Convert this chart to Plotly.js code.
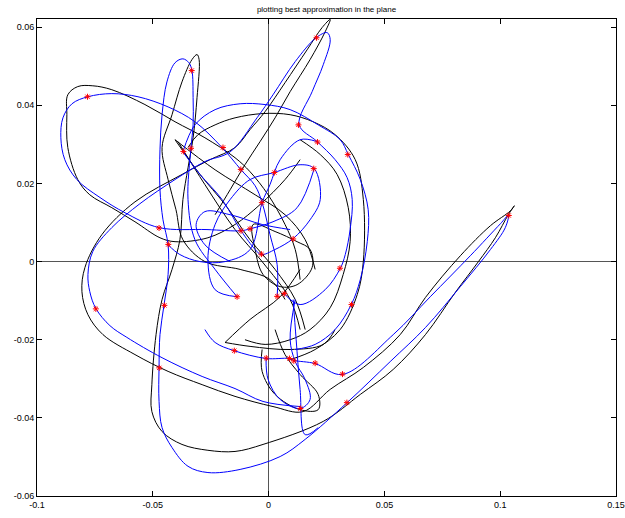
<!DOCTYPE html>
<html><head><meta charset="utf-8">
<script src="https://cdn.plot.ly/plotly-3.0.1.min.js"></script>
<style>html,body{margin:0;padding:0;background:#fff}#chart{width:625px;height:518px}</style>
</head><body><div id="chart"></div>
<script>
// Sample points (red asterisks)
const ptX = [0.0207,-0.0332,-0.0782,0.0129,0.0211,0.0342,0.0195,0.0025,-0.0120,-0.0197,-0.0335,-0.0368,-0.0029,-0.0473,-0.0433,-0.0119,-0.0080,0.0106,-0.0031,0.0308,-0.0136,0.0037,0.0068,0.0358,-0.0148,-0.0010,0.0090,0.0109,0.0201,0.0319,0.0137,0.0338,-0.0746,-0.0450,0.1037,-0.0472];
const ptY = [0.0573,0.0489,0.0422,0.0350,0.0306,0.0274,0.0238,0.0228,0.0236,0.0292,0.0290,0.0282,0.0151,0.0086,0.0044,0.0079,0.0084,0.0058,0.0019,-0.0017,-0.0090,-0.0089,-0.0082,-0.0110,-0.0228,-0.0247,-0.0248,-0.0254,-0.0260,-0.0288,-0.0376,-0.0361,-0.0121,-0.0112,0.0118,-0.0272];

// Blue curve pieces (interpolating curve)
const blueX1 = [0.0197,0.0123,0.0019,-0.0080,-0.0119,-0.0266,-0.0473,-0.0620,-0.0728,-0.0828,-0.0880,-0.0897,-0.0888,-0.0849,-0.0780,-0.0677,-0.0564,-0.0434,-0.0318,-0.0201,-0.0119,-0.0058,-0.0028,0.0006,0.0037,0.0037];
const blueY1 = [0.0238,0.0138,0.0102,0.0084,0.0079,0.0082,0.0087,0.0125,0.0164,0.0210,0.0261,0.0317,0.0368,0.0404,0.0422,0.0430,0.0422,0.0396,0.0358,0.0292,0.0235,0.0194,0.0151,0.0069,-0.0008,-0.0090];
const blueX2 = [0.0136,-0.0024,-0.0145,-0.0287,-0.0460,-0.0612,-0.0685,-0.0746,-0.0772,-0.0780,-0.0759,-0.0677,-0.0556,-0.0404,-0.0275,-0.0166,-0.0050,0.0019,0.0115,0.0205,0.0253,0.0266,0.0236,0.0188,0.0132,0.0210,0.0287,0.0339,0.0361,0.0352,0.0331,0.0309,0.0244,0.0136,0.0067];
const blueY2 = [-0.0371,-0.0358,-0.0325,-0.0294,-0.0246,-0.0194,-0.0164,-0.0120,-0.0077,-0.0033,0.0026,0.0087,0.0148,0.0210,0.0256,0.0281,0.0368,0.0427,0.0512,0.0573,0.0586,0.0568,0.0504,0.0435,0.0350,0.0307,0.0261,0.0215,0.0159,0.0082,0.0018,-0.0018,-0.0072,-0.0110,-0.0082];
const blueX3 = [-0.0136,-0.0231,-0.0318,-0.0348,-0.0335,-0.0326,-0.0326,-0.0331,-0.0344,-0.0370,-0.0404,-0.0439,-0.0460,-0.0469,-0.0469,-0.0456,-0.0434,-0.0434,-0.0452,-0.0469,-0.0473,-0.0473,-0.0460,-0.0417,-0.0348,-0.0262,-0.0123,0.0050,0.0158,0.0339,0.0525,0.0677,0.0828,0.0958,0.1022,0.1035,0.1001,0.0871,0.0698,0.0538,0.0318,0.0201,0.0110,0.0089,-0.0011,-0.0149,-0.0231,-0.0275];
const blueY3 = [-0.0090,-0.0020,0.0056,0.0159,0.0292,0.0350,0.0420,0.0489,0.0509,0.0519,0.0509,0.0460,0.0376,0.0286,0.0184,0.0107,0.0043,-0.0033,-0.0113,-0.0187,-0.0271,-0.0358,-0.0425,-0.0476,-0.0524,-0.0540,-0.0532,-0.0499,-0.0455,-0.0361,-0.0256,-0.0169,-0.0064,0.0031,0.0087,0.0118,0.0097,0.0015,-0.0090,-0.0187,-0.0289,-0.0261,-0.0253,-0.0248,-0.0248,-0.0228,-0.0207,-0.0174];
const blueX4 = [-0.0370,-0.0318,-0.0231,-0.0123,-0.0015,0.0093,0.0214,0.0309,0.0344,0.0396,0.0430,0.0426,0.0396,0.0357,0.0287,0.0201,0.0115];
const blueY4 = [0.0281,0.0350,0.0389,0.0404,0.0402,0.0389,0.0350,0.0312,0.0274,0.0210,0.0133,0.0051,-0.0046,-0.0110,-0.0174,-0.0212,-0.0225];
const blueX5 = [-0.0370,-0.0296,-0.0201,-0.0119,-0.0058,-0.0032,0.0028,0.0106,0.0179,0.0223,0.0197,0.0136,0.0024,-0.0080,-0.0166,-0.0231,-0.0262,-0.0231,-0.0136];
const blueY5 = [0.0281,0.0223,0.0159,0.0079,0.0031,0.0018,0.0031,0.0059,0.0107,0.0159,0.0238,0.0248,0.0228,0.0210,0.0159,0.0095,0.0005,-0.0072,-0.0090];
const blueX6 = [-0.0434,-0.0383,-0.0296,-0.0188,-0.0080,-0.0028,0.0006,0.0050,0.0136,0.0210];
const blueY6 = [0.0043,0.0018,0,0,0.0031,0.0151,0.0197,0.0261,0.0312,0.0307];
const blueX7 = [-0.0011,-0.0002,0.0050,0.0136,0.0179,0.0158,0.0115,0.0093,0.0115];
const blueY7 = [-0.0248,-0.0302,-0.0353,-0.0376,-0.0353,-0.0302,-0.0256,-0.0200,-0.0097];
const blueX8 = [0.0106,0.0119,0.0136,0.0158,0.0214];
const blueY8 = [-0.0097,-0.0200,-0.0327,-0.0443,-0.0425];
const blueX9 = [-0.0166,-0.0275,-0.0313,-0.0275,-0.0166,-0.0028,0.0093];
const blueY9 = [0,0.0043,0.0095,0.0128,0.0120,0.0095,0.0082];

// Black curve pieces (best approximation)
const blackX1 = [0.0136,0.0071,-0.0037,-0.0145,-0.0262,-0.0404,-0.0469,-0.0577,-0.0677,-0.0772,-0.0824,-0.0867,-0.0871,-0.0867,-0.0824,-0.0759,-0.0677,-0.0534,-0.0404,-0.0275,-0.0145,-0.0080,-0.0002,0.0071,0.0115,0.0136];
const blackY1 = [0.0261,0.0210,0.0146,0.0095,0.0061,0.0051,0.0061,0.0102,0.0138,0.0171,0.0210,0.0292,0.0376,0.0427,0.0448,0.0450,0.0440,0.0402,0.0358,0.0317,0.0266,0.0230,0.0171,0.0095,0.0031,-0.0046];
const blackX2 = [0.0071,0.0006,-0.0123,-0.0275,-0.0370,-0.0400,-0.0434,-0.0460,-0.0417,-0.0374,-0.0331,-0.0309,-0.0300,-0.0309,-0.0326,-0.0348,-0.0370,-0.0383,-0.0417,-0.0460,-0.0486,-0.0504,-0.0504,-0.0460,-0.0374,-0.0262,-0.0145,-0.0024,0.0236,0.0396,0.0538,0.0677,0.0806,0.0906,0.0979,0.1035,0.1061,0.1044,0.0958,0.0828,0.0677,0.0568,0.0409,0.0266,0.0149,0.0019,-0.0145,-0.0287,-0.0434,-0.0577,-0.0715,-0.0780,-0.0806,-0.0793,-0.0720,-0.0577,-0.0374,-0.0253,-0.0145,-0.0080,-0.0015,0.0071,0.0166,0.0231,0.0266,0.0244,0.0179,0.0093,0.0028,-0.0037,-0.0102,-0.0166,-0.0231];
const blackY2 = [-0.0097,-0.0046,-0.0020,0,0.0056,0.0133,0.0210,0.0292,0.0376,0.0460,0.0517,0.0530,0.0517,0.0420,0.0317,0.0240,0.0159,0.0056,-0.0020,-0.0097,-0.0187,-0.0315,-0.0384,-0.0435,-0.0468,-0.0483,-0.0486,-0.0468,-0.0409,-0.0340,-0.0276,-0.0187,-0.0079,0,0.0061,0.0120,0.0143,0.0130,0.0092,0.0015,-0.0092,-0.0187,-0.0271,-0.0327,-0.0384,-0.0371,-0.0345,-0.0315,-0.0281,-0.0238,-0.0187,-0.0136,-0.0077,-0.0015,0.0069,0.0153,0.0223,0.0261,0.0292,0.0338,0.0384,0.0458,0.0542,0.0599,0.0620,0.0588,0.0517,0.0435,0.0368,0.0307,0.0248,0.0184,0.0120];
const blackX3 = [-0.0348,-0.0305,-0.0231,-0.0145,-0.0024,0.0093,0.0192,0.0287,0.0374,0.0409,0.0409,0.0383,0.0309,0.0201,0.0093];
const blackY3 = [0.0292,0.0325,0.0350,0.0368,0.0379,0.0376,0.0358,0.0325,0.0261,0.0159,0,-0.0084,-0.0174,-0.0225,-0.0251];
const blackX4 = [0.0136,0.0223,0.0296,0.0344,0.0352,0.0322,0.0266,0.0179,0.0093,-0.0015,-0.0102];
const blackY4 = [0.0312,0.0274,0.0223,0.0138,0.0051,-0.0033,-0.0118,-0.0174,-0.0200,-0.0212,-0.0200];
const blackX5 = [-0.0067,-0.0058,-0.0024,0.0050,0.0123,0.0188,0.0179,0.0123,0.0028,-0.0067];
const blackY5 = [0.0095,0.0031,-0.0033,-0.0064,-0.0059,-0.0015,0.0031,0.0051,0.0077,0.0095];
const blackX6 = [-0.0404,-0.0296,-0.0188,-0.0080,0.0028,0.0115,0.0158];
const blackY6 = [0.0312,0.0223,0.0146,0.0056,-0.0020,-0.0097,-0.0174];
const blackX7 = [-0.0028,-0.0028,0.0028,0.0136,0.0214,0.0214,0.0136,0.0071,0.0028];
const blackY7 = [-0.0225,-0.0281,-0.0340,-0.0379,-0.0379,-0.0340,-0.0289,-0.0238,-0.0174];
const blackX8 = [-0.0391,-0.0275,-0.0145,-0.0028,0.0093,0.0136];
const blackY8 = [0.0307,0.0197,0.0082,0,-0.0097,-0.0174];
const blackX9 = [-0.0404,-0.0231,-0.0058,0.0071,0.0158,0.0201];
const blackY9 = [0.0312,0.0235,0.0171,0.0120,0.0056,-0.0020];
const blackX10 = [-0.0188,-0.0080,0.0093,0.0236,0.0287];
const blackY10 = [-0.0207,-0.0217,-0.0225,-0.0212,-0.0174];
const blackX11 = [-0.0188,-0.0080,0.0050,0.0136];
const blackY11 = [-0.0207,-0.0148,-0.0090,-0.0020];

const xTicks = [-0.1,-0.05,0,0.05,0.1,0.15];
const xTickText = ['-0.1','-0.05','0','0.05','0.1','0.15'];
const yTicks = [-0.06,-0.04,-0.02,0,0.02,0.04,0.06];
const yTickText = ['-0.06','-0.04','-0.02','0','0.02','0.04','0.06'];
const titleText = 'plotting best approximation in the plane';

function joinPieces(pieces){
  const out=[];
  pieces.forEach((p,i)=>{ if(i>0) out.push(null); out.push(...p); });
  return out;
}
const bx = joinPieces([blueX1,blueX2,blueX3,blueX4,blueX5,blueX6,blueX7,blueX8,blueX9]);
const by = joinPieces([blueY1,blueY2,blueY3,blueY4,blueY5,blueY6,blueY7,blueY8,blueY9]);
const kx = joinPieces([blackX1,blackX2,blackX3,blackX4,blackX5,blackX6,blackX7,blackX8,blackX9,blackX10,blackX11]);
const ky = joinPieces([blackY1,blackY2,blackY3,blackY4,blackY5,blackY6,blackY7,blackY8,blackY9,blackY10,blackY11]);

const traces = [
  {x:kx,y:ky,mode:'lines',line:{color:'#000000',width:1,shape:'spline',smoothing:1},connectgaps:false,hoverinfo:'skip'},
  {x:bx,y:by,mode:'lines',line:{color:'#0000ff',width:1,shape:'spline',smoothing:1},connectgaps:false,hoverinfo:'skip'},
  {x:ptX,y:ptY,mode:'markers',marker:{symbol:'asterisk-open',size:5,color:'#ff0000',line:{color:'#ff0000',width:1}},hoverinfo:'skip'}
];
const axisCommon = {showgrid:false,zeroline:true,zerolinecolor:'#555555',zerolinewidth:1.5,showline:true,linecolor:'#000',linewidth:1,mirror:'ticks',ticks:'inside',ticklen:5,tickcolor:'#000',tickfont:{family:'Liberation Sans, Arial, sans-serif',size:9,color:'#000'}};
const layout = {
  width:625,height:518,showlegend:false,paper_bgcolor:'#fff',plot_bgcolor:'#fff',
  margin:{l:37,r:9,t:19,b:22,pad:0},
  title:{text:titleText,font:{family:'Liberation Sans, Arial, sans-serif',size:8,color:'#000'},x:0.5,xref:'paper',y:1-9/518,yanchor:'middle'},
  xaxis:Object.assign({},axisCommon,{range:[-0.1,0.15],tickvals:xTicks,ticktext:xTickText}),
  yaxis:Object.assign({},axisCommon,{range:[-0.06,0.0621],tickvals:yTicks,ticktext:yTickText})
};
Plotly.newPlot('chart',traces,layout,{staticPlot:true,displayModeBar:false});
</script></body></html>
